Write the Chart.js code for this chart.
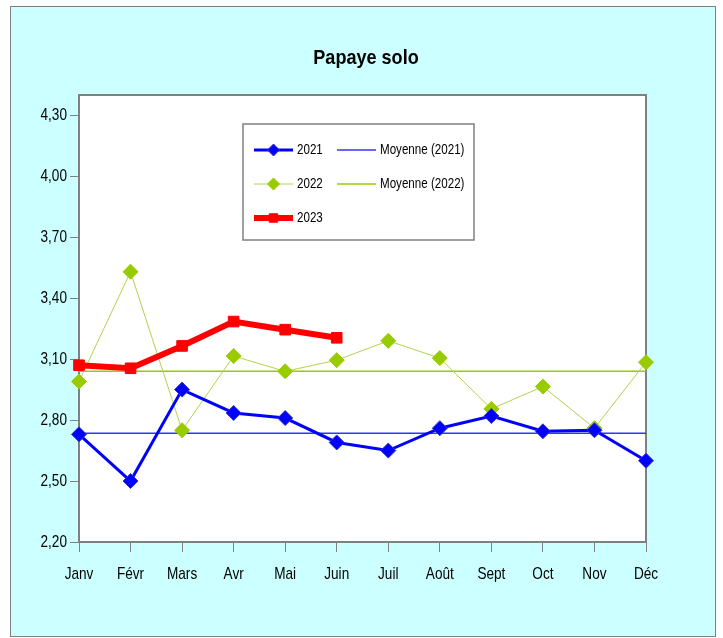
<!DOCTYPE html>
<html>
<head>
<meta charset="utf-8">
<script src="https://cdn.jsdelivr.net/npm/chart.js@4.4.1/dist/chart.umd.min.js"></script>
<style>
  html, body { margin: 0; padding: 0; background: #fff; }
</style>
</head>
<body>
<canvas id="papayeChart" width="723" height="638"></canvas>
<script>
const months = ["Janv", "Févr", "Mars", "Avr", "Mai", "Juin", "Juil", "Août", "Sept", "Oct", "Nov", "Déc"];
const prix2021 = [2.73, 2.50, 2.95, 2.835, 2.81, 2.69, 2.65, 2.76, 2.82, 2.745, 2.75, 2.60];
const prix2022 = [2.99, 3.53, 2.75, 3.115, 3.04, 3.095, 3.19, 3.105, 2.855, 2.965, 2.76, 3.085];
const prix2023 = [3.07, 3.055, 3.165, 3.285, 3.245, 3.205, null, null, null, null, null, null];
const moyenne2021 = [2.735, 2.735, 2.735, 2.735, 2.735, 2.735, 2.735, 2.735, 2.735, 2.735, 2.735, 2.735];
const moyenne2022 = [3.04, 3.04, 3.04, 3.04, 3.04, 3.04, 3.04, 3.04, 3.04, 3.04, 3.04, 3.04];
const yTicks = [2.2, 2.5, 2.8, 3.1, 3.4, 3.7, 4.0, 4.3];
const titre = "Papaye solo";

const fontFamily = "'Liberation Sans', Arial, sans-serif";
const fmtPrix = (v) => Number(v).toFixed(2).replace(".", ",");

// texte étroit (style Arial Narrow) : pas de police narrow installée, on compresse
function drawNarrow(ctx, text, x, y, align, size, squeeze, weight) {
  ctx.save();
  ctx.translate(x, y);
  ctx.scale(squeeze, 1);
  ctx.font = (weight || "normal") + " " + size + "px " + fontFamily;
  ctx.fillStyle = "#000000";
  ctx.textAlign = align;
  ctx.textBaseline = "middle";
  ctx.fillText(text, 0, 0);
  ctx.restore();
}

// fond cyan + cadre gris, zone de tracé blanche
const backgroundPlugin = {
  id: "excelBackground",
  beforeDraw(chart) {
    const ctx = chart.ctx;
    const a = chart.chartArea;
    ctx.save();
    ctx.fillStyle = "#ffffff";
    ctx.fillRect(0, 0, chart.width, chart.height);
    ctx.fillStyle = "#ccffff";
    ctx.fillRect(10, 6, 705, 630);
    ctx.strokeStyle = "#808080";
    ctx.lineWidth = 1;
    ctx.strokeRect(10.5, 6.5, 705, 630);
    ctx.fillStyle = "#ffffff";
    ctx.fillRect(a.left, a.top, a.right - a.left, a.bottom - a.top);
    ctx.restore();
  },
  beforeDatasetsDraw(chart) {
    const ctx = chart.ctx;
    const a = chart.chartArea;
    ctx.save();
    ctx.strokeStyle = "#808080";
    ctx.lineWidth = 2;
    ctx.beginPath();
    ctx.moveTo(a.left, a.top);
    ctx.lineTo(a.right, a.top);
    ctx.lineTo(a.right, a.bottom);
    ctx.stroke();
    ctx.restore();

    // titre et étiquettes des axes
    drawNarrow(ctx, titre, 366, 58, "center", 21, 0.86, "bold");
    const xs = chart.scales.x;
    const ys = chart.scales.y;
    chart.data.labels.forEach((lab, i) => {
      drawNarrow(ctx, lab, xs.getPixelForValue(i), 574, "center", 17, 0.8);
    });
    ys.ticks.forEach((t) => {
      drawNarrow(ctx, fmtPrix(t.value), 67, ys.getPixelForValue(t.value), "right", 17, 0.8);
    });
  },
};

// légende dans un cadre à l'intérieur du graphique
const boxLegendPlugin = {
  id: "boxLegend",
  afterDraw(chart) {
    const ctx = chart.ctx;
    ctx.save();
    ctx.fillStyle = "#ffffff";
    ctx.fillRect(243, 124, 231, 116);
    ctx.strokeStyle = "#808080";
    ctx.lineWidth = 1.5;
    ctx.strokeRect(243, 124, 231, 116);

    const items = [
      [0, 254, 150], [3, 337, 150],
      [1, 254, 184], [4, 337, 184],
      [2, 254, 218],
    ];
    items.forEach(([i, x, y]) => {
      const ds = chart.data.datasets[i];
      ctx.strokeStyle = ds.borderColor;
      ctx.lineWidth = ds.borderWidth;
      ctx.beginPath();
      ctx.moveTo(x, y);
      ctx.lineTo(x + 39, y);
      ctx.stroke();
      if (ds.pointRadius > 0) {
        ctx.fillStyle = ds.pointBackgroundColor;
        ctx.strokeStyle = ds.pointBorderColor;
        ctx.lineWidth = 1;
        Chart.helpers.drawPoint(ctx, {
          pointStyle: ds.pointStyle,
          radius: ds.pointRadius - 1.5,
          borderWidth: 1,
          rotation: 0,
        }, x + 19.5, y);
      }
      drawNarrow(ctx, ds.label, x + 43, y, "left", 14.5, 0.8);
    });
    ctx.restore();
  },
};

const ctx = document.getElementById("papayeChart").getContext("2d");
new Chart(ctx, {
  type: "line",
  data: {
    labels: months,
    datasets: [
      {
        label: "2021",
        data: prix2021,
        borderColor: "#0000ff",
        borderWidth: 3,
        pointStyle: "rectRot",
        pointRadius: 7.5,
        pointBackgroundColor: "#0000ff",
        pointBorderColor: "#3333cc",
        pointBorderWidth: 1,
        order: 1,
        clip: false,
      },
      {
        label: "2022",
        data: prix2022,
        borderColor: "#b0d450",
        borderWidth: 1,
        pointStyle: "rectRot",
        pointRadius: 7.5,
        pointBackgroundColor: "#99cc00",
        pointBorderColor: "#99cc00",
        pointBorderWidth: 1,
        order: 2,
        clip: false,
      },
      {
        label: "2023",
        data: prix2023,
        borderColor: "#ff0000",
        borderWidth: 6,
        pointStyle: "rect",
        pointRadius: 7.5,
        pointBackgroundColor: "#ff0000",
        pointBorderColor: "#ff0000",
        pointBorderWidth: 1,
        order: 0,
        clip: false,
      },
      {
        label: "Moyenne (2021)",
        data: moyenne2021,
        borderColor: "#3333ff",
        borderWidth: 1.5,
        pointRadius: 0,
        order: 3,
      },
      {
        label: "Moyenne (2022)",
        data: moyenne2022,
        borderColor: "#99cc00",
        borderWidth: 1.5,
        pointRadius: 0,
        order: 4,
      },
    ],
  },
  options: {
    responsive: false,
    animation: false,
    spanGaps: false,
    layout: { padding: { left: 0, right: 77, top: 95, bottom: 0 } },
    plugins: {
      legend: { display: false },
      tooltip: { enabled: false },
      title: { display: false },
    },
    scales: {
      x: {
        offset: false,
        grid: {
          offset: false,
          drawOnChartArea: false,
          drawTicks: true,
          tickLength: 10,
          color: "#808080",
        },
        border: { display: true, color: "#808080", width: 2 },
        ticks: { display: false, autoSkip: false },
        afterFit(scale) { scale.height = 96; },
      },
      y: {
        min: 2.2,
        max: 4.4,
        grid: {
          drawOnChartArea: false,
          drawTicks: true,
          tickLength: 9,
          color: "#808080",
        },
        border: { display: true, color: "#808080", width: 2 },
        ticks: { display: false },
        afterBuildTicks(scale) {
          scale.ticks = yTicks.map((v) => ({ value: v }));
        },
        afterFit(scale) { scale.width = 79; },
      },
    },
  },
  plugins: [backgroundPlugin, boxLegendPlugin],
});
</script>
</body>
</html>
